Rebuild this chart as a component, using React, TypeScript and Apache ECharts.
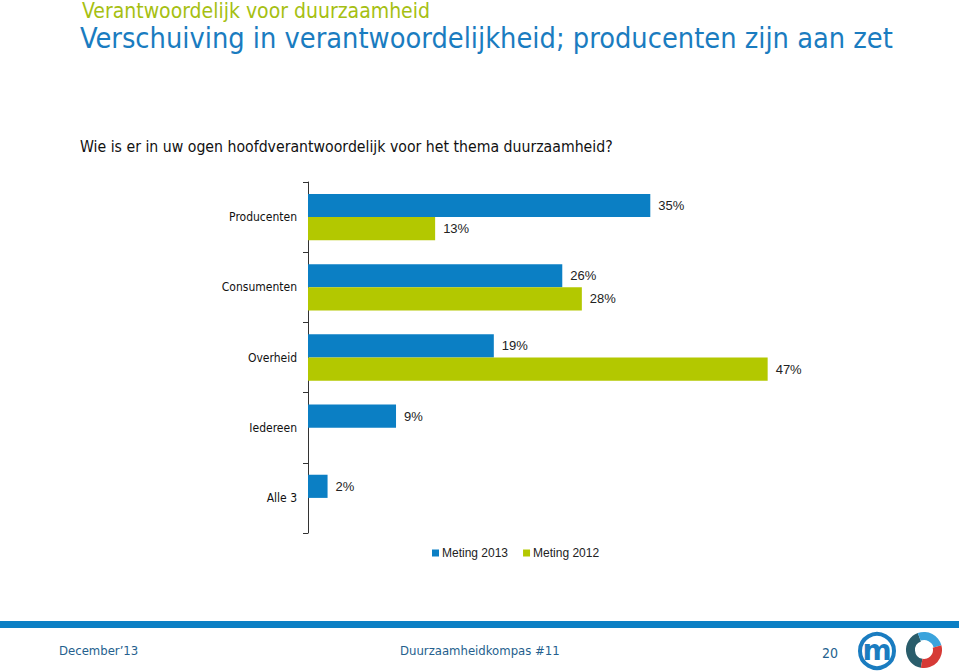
import React, { useEffect, useRef } from "react";
import * as echarts from "echarts";

const categories = ["Producenten", "Consumenten", "Overheid", "Iedereen", "Alle 3"];
const meting2013 = [35, 26, 19, 9, 2];
const meting2012: (number | null)[] = [13, 28, 47, null, null];
const seriesNames = ["Meting 2013", "Meting 2012"];

const BLUE = "#0b7fc4";
const GREEN = "#b3c800";
const CAT_FONT = "'DejaVu Sans Condensed', 'DejaVu Sans', sans-serif";
const NUM_FONT = "'Liberation Sans', Arial, sans-serif";

export default function App() {
  const ref = useRef<HTMLDivElement>(null);
  useEffect(() => {
    if (!ref.current) return;
    const chart = echarts.init(ref.current, undefined, { renderer: "svg" });
    const label = {
      show: true,
      position: "right" as const,
      distance: 8,
      formatter: "{c}%",
      fontSize: 13,
      fontFamily: NUM_FONT,
      color: "#222",
    };
    chart.setOption({
      animation: false,
      backgroundColor: "#ffffff",
      grid: { left: 308, top: 182, width: 489, height: 351, containLabel: false },
      xAxis: {
        type: "value",
        min: 0,
        max: 50,
        show: false,
        splitLine: { show: false },
      },
      yAxis: {
        type: "category",
        data: categories,
        inverse: true,
        axisLine: { show: true, lineStyle: { color: "#333", width: 1 } },
        axisTick: { show: true, length: 5, lineStyle: { color: "#333" } },
        axisLabel: { margin: 11, fontSize: 12, fontFamily: CAT_FONT, color: "#111" },
      },
      legend: {
        data: seriesNames,
        left: 432,
        top: 547,
        icon: "rect",
        itemWidth: 7,
        itemHeight: 7,
        itemGap: 15,
        textStyle: { fontSize: 12, fontFamily: NUM_FONT, color: "#222", padding: [0, 0, 0, -2] },
        padding: 0,
      },
      series: [
        {
          name: seriesNames[0],
          type: "bar",
          data: meting2013,
          itemStyle: { color: BLUE },
          barGap: "0%",
          barCategoryGap: "34%",
          label,
        },
        {
          name: seriesNames[1],
          type: "bar",
          data: meting2012,
          itemStyle: { color: GREEN },
          barGap: "0%",
          barCategoryGap: "34%",
          label,
        },
      ],
      graphic: [
        {
          type: "text",
          x: 82,
          y: 11,
          style: {
            text: "Verantwoordelijk voor duurzaamheid",
            fill: "#a6bf12",
            fontSize: 21,
            lineHeight: 20,
            fontFamily: CAT_FONT,
            textVerticalAlign: "middle",
          },
        },
        {
          type: "text",
          x: 80,
          y: 38,
          style: {
            text: "Verschuiving in verantwoordelijkheid; producenten zijn aan zet",
            fill: "#1a7cc0",
            fontSize: 28.7,
            lineHeight: 28,
            fontFamily: CAT_FONT,
            textVerticalAlign: "middle",
          },
        },
        {
          type: "text",
          x: 80,
          y: 146,
          style: {
            text: "Wie is er in uw ogen hoofdverantwoordelijk voor het thema duurzaamheid?",
            fill: "#111",
            fontSize: 15.7,
            fontFamily: CAT_FONT,
            textVerticalAlign: "middle",
          },
        },
        { type: "rect", shape: { x: 0, y: 621, width: 959, height: 7 }, style: { fill: BLUE } },
        {
          type: "text",
          x: 59,
          y: 650,
          style: {
            text: "December\u201913",
            fill: "#255f8e",
            fontSize: 13,
            fontFamily: CAT_FONT,
            textVerticalAlign: "middle",
          },
        },
        {
          type: "text",
          x: 400,
          y: 650,
          style: {
            text: "Duurzaamheidkompas #11",
            fill: "#255f8e",
            fontSize: 13,
            fontFamily: CAT_FONT,
            textVerticalAlign: "middle",
          },
        },
        {
          type: "text",
          x: 822,
          y: 653,
          style: {
            text: "20",
            fill: "#255f8e",
            fontSize: 14,
            fontFamily: CAT_FONT,
            textVerticalAlign: "middle",
          },
        },
        {
          type: "circle",
          shape: { cx: 877, cy: 651, r: 17 },
          style: { fill: "#fff", stroke: "#1a7cc0", lineWidth: 4 },
        },
        {
          type: "text",
          x: 877,
          y: 650,
          style: {
            text: "m",
            fill: "#1a7cc0",
            fontSize: 28,
            fontWeight: "bold",
            fontFamily: "'DejaVu Sans', sans-serif",
            textAlign: "center",
            textVerticalAlign: "middle",
          },
        },
        {
          type: "sector",
          shape: { cx: 924, cy: 650, r: 18, r0: 9, startAngle: (100 * Math.PI) / 180, endAngle: (250 * Math.PI) / 180 },
          style: { fill: "#2a5d6b" },
        },
        {
          type: "sector",
          shape: { cx: 924, cy: 650, r: 18, r0: 10, startAngle: (250 * Math.PI) / 180, endAngle: (345 * Math.PI) / 180 },
          style: { fill: "#3aa3dc" },
        },
        {
          type: "sector",
          shape: { cx: 924, cy: 650, r: 18, r0: 9, startAngle: (345 * Math.PI) / 180, endAngle: (460 * Math.PI) / 180 },
          style: { fill: "#d63a36" },
        },
      ],
    });
    return () => chart.dispose();
  }, []);
  return (
    <div
      ref={ref}
      style={{ position: "absolute", left: 0, top: 0, width: 959, height: 671, background: "#fff" }}
    />
  );
}
